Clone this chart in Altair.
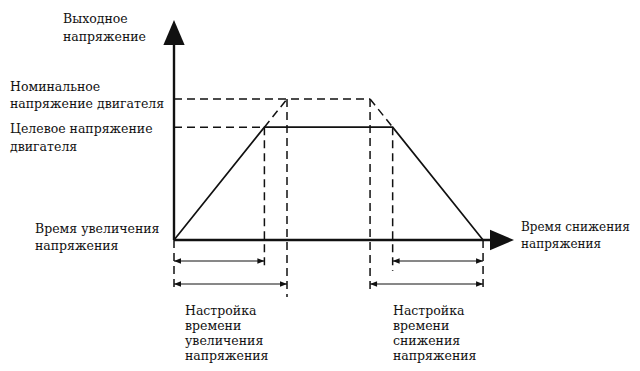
import altair as alt
import pandas as pd

# ---- conceptual values (time in s, voltage in % of nominal) ----
nominal_v = 100
target_v = 80
t_target_up = 8.0       # time to reach target voltage
t_nominal_up = 10.0     # acceleration time setting (to nominal)
t_nominal_down = 17.35  # start of deceleration, nominal line
t_target_down = 19.35   # start of deceleration, target line
t_end = 27.35           # stop

solid_t = [0, t_target_up, t_target_down, t_end]
solid_v = [0, target_v, target_v, 0]

# ---- layout helpers (pixel frame of the drawing, page margin 8px) ----
X0, Y0, PXS, PYS = 174.0, 240.0, 11.3, 1.41
def tx(px): return (px - X0) / PXS
def vy(py): return (Y0 - py) / PYS

W, H = 624, 355
xs = alt.Scale(domain=[tx(8), tx(8 + W)], nice=False, zero=False)
ys = alt.Scale(domain=[vy(8 + H), vy(8)], nice=False, zero=False)

def X(f="t"): return alt.X(f"{f}:Q", scale=xs, axis=None)
def Y(f="v"): return alt.Y(f"{f}:Q", scale=ys, axis=None)

INK = "#111111"
FONT = "DejaVu Serif"
FS = 12.5

# axes
axes_df = pd.DataFrame({"t": [0, 0], "t2": [tx(500), 0], "v": [0, 0], "v2": [0, vy(32)]})
axes = alt.Chart(axes_df).mark_rule(color=INK, strokeWidth=2.4).encode(
    x=X(), x2="t2:Q", y=Y(), y2="v2:Q")

arrow_x = alt.Chart(pd.DataFrame({"t": [tx(514)], "v": [0]})).mark_point(
    shape="M0,0 L-2,-0.85 L-2,0.85 Z", size=576, filled=True, color=INK, opacity=1, strokeWidth=0
).encode(x=X(), y=Y())
arrow_y = alt.Chart(pd.DataFrame({"t": [0], "v": [vy(20)]})).mark_point(
    shape="M0,0 L-0.85,2 L0.85,2 Z", size=625, filled=True, color=INK, opacity=1, strokeWidth=0
).encode(x=X(), y=Y())

# solid trapezoid (target voltage profile)
solid = alt.Chart(pd.DataFrame({"t": solid_t, "v": solid_v, "o": range(4)})).mark_line(
    color=INK, strokeWidth=1.7).encode(x=X(), y=Y(), order="o:Q")

# dashed construction lines
dash_rows = [
    (0, nominal_v, t_nominal_down, nominal_v),
    (0, target_v, t_target_up, target_v),
    (t_target_up, target_v, t_nominal_up, nominal_v),
    (t_nominal_down, nominal_v, t_target_down, target_v),
    (0, 0, 0, vy(290)),
    (t_target_up, target_v, t_target_up, vy(268)),
    (t_nominal_up, nominal_v, t_nominal_up, vy(297)),
    (t_nominal_down, nominal_v, t_nominal_down, vy(292)),
    (t_target_down, target_v, t_target_down, vy(271)),
    (t_end, 0, t_end, vy(292)),
]
dash_df = pd.DataFrame(dash_rows, columns=["t", "v", "t2", "v2"])
dashed = alt.Chart(dash_df).mark_rule(color=INK, strokeWidth=1.5, strokeDash=[8, 5]).encode(
    x=X(), y=Y(), x2="t2:Q", y2="v2:Q")

# dimension lines
row1, row2 = vy(261), vy(284)
dim_rows = [
    (0, t_target_up, row1),
    (0, t_nominal_up, row2),
    (t_target_down, t_end, row1),
    (t_nominal_down, t_end, row2),
]
dim_df = pd.DataFrame(dim_rows, columns=["t", "t2", "v"])
dims = alt.Chart(dim_df).mark_rule(color=INK, strokeWidth=1).encode(
    x=X(), x2="t2:Q", y=Y())
heads_r = alt.Chart(dim_df).mark_point(
    shape="M0,0 L-2,-0.8 L-2,0.8 Z", size=49, filled=True, color=INK, opacity=1, strokeWidth=0
).encode(x=X("t2"), y=Y())
heads_l = alt.Chart(dim_df).mark_point(
    shape="M0,0 L2,-0.8 L2,0.8 Z", size=49, filled=True, color=INK, opacity=1, strokeWidth=0
).encode(x=X("t"), y=Y())

# labels: text, left x (px), first baseline y (px), line height, font size
labels = [
    ("Выходное\nнапряжение", 63, 23, 18, FS),
    ("Номинальное\nнапряжение двигателя", 10, 91, 16.5, FS),
    ("Целевое напряжение\nдвигателя", 10, 133, 18, FS),
    ("Время увеличения\nнапряжения", 35, 233, 17, FS),
    ("Время снижения\nнапряжения", 521, 231, 17, 12),
    ("Настройка\nвремени\nувеличения\nнапряжения", 185, 315, 15, FS),
    ("Настройка\nвремени\nснижения\nнапряжения", 393, 315, 15, FS),
]
text_layers = []
for txt, px, py, lh, fs in labels:
    text_layers.append(
        alt.Chart(pd.DataFrame({"label": [txt]})).mark_text(
            align="left", baseline="alphabetic", font=FONT, fontSize=fs,
            color=INK, lineBreak="\n", lineHeight=lh
        ).encode(x=alt.value(px - 8), y=alt.value(py - 8), text="label:N")
    )

chart = alt.layer(axes, arrow_x, arrow_y, dashed, solid, dims, heads_r, heads_l, *text_layers).properties(
    width=W, height=H, autosize=alt.AutoSizeParams(type="none"), padding=0,
    background="white"
).configure_view(stroke=None)

chart.save("out.html", embed_options={"renderer": "svg", "actions": False})
